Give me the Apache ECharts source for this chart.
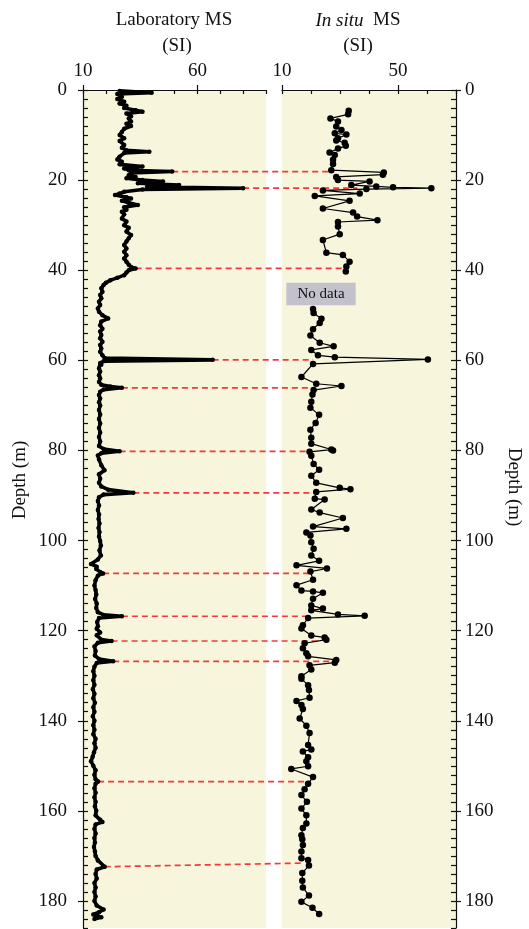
<!DOCTYPE html>
<html>
<head>
<meta charset="utf-8">
<script src="https://cdn.jsdelivr.net/npm/echarts@6/dist/echarts.min.js"></script>
<style>
html, body { margin: 0; padding: 0; background: #fff; }
#chart { width: 529px; height: 929px; }
</style>
</head>
<body>
<div id="chart"></div>
<script>
// depth (m), laboratory MS (SI)
var labMS = [
  [0.2,26],[0.6,40],[0.9,25],[1.5,27],[2.0,25],[2.6,28],[3.0,26],[3.5,29],[4.0,28],[4.5,33],
  [4.8,36],[5.2,29],[5.8,31],[6.3,30],[7.0,31],[7.5,29],[8.0,31],[8.6,28],[9.3,27],[10.0,26],
  [10.7,28],[11.3,26],[12.2,28],[12.8,27],[13.4,29],[13.7,39],[14.0,28],[14.8,26],[15.4,25],[15.9,27],
  [16.5,26],[17.0,36],[17.4,28],[17.8,30],[18.1,49],[18.4,31],[18.9,30],[19.3,33],[19.6,29],[20.0,36],
  [20.3,45],[20.7,34],[21.1,52],[21.5,38],[21.8,80],[22.1,36],[22.6,28],[23.0,26],[23.3,24],[23.8,29],
  [24.1,31],[24.6,27],[25.0,30],[25.5,34],[26.0,28],[26.6,29],[27.0,27],[27.6,28],[28.5,27],[29.2,29],
  [30.0,28],[30.6,30],[31.4,29],[32.2,31],[32.9,30],[33.6,29],[34.4,28],[35.2,29],[35.9,28],[36.7,29],
  [37.4,28],[38.1,29],[38.8,30],[39.3,31],[39.6,33],[40.0,30],[40.5,29],[41.1,28],[41.7,25],[42.2,22],
  [42.8,20],[43.3,19],[44.0,18],[44.8,18.5],[45.5,17.5],[46.2,18],[47.0,17],[47.7,17.5],[48.5,16.5],[49.2,17],
  [50.0,18.5],[50.7,21],[51.4,18],[52.2,17.5],[53.0,18.5],[53.6,17.5],[54.4,18],[55.1,17.5],[55.9,18.5],[56.6,17.5],
  [57.4,18],[58.1,17.5],[58.9,18.5],[59.5,19.5],[59.9,66.7],[60.2,19],[60.6,17.5],[61.0,18],[61.8,17],[62.5,17.5],
  [63.3,17],[64.0,17.5],[64.8,17],[65.4,18],[65.8,22],[66.1,27],[66.5,19],[67.0,17.5],[67.7,17],[68.5,17.5],
  [69.3,17],[70.0,17.5],[71.0,17],[72.0,17.5],[73.0,17],[74.0,17.5],[75.0,17],[76.0,17.5],[77.0,17],[78.0,17.5],
  [79.0,17],[79.7,19],[80.2,26],[80.6,18],[81.1,16.5],[82.0,17],[83.3,18],[84.4,19.4],[85.3,17],[86.3,17.5],
  [87.2,17],[88.0,18],[88.7,21],[89.4,32],[89.8,19],[90.4,17],[91.2,16.5],[92.2,17],[93.2,16.5],[94.2,17],
  [95.2,16.8],[96.2,17.2],[97.2,16.8],[98.1,17.2],[99.1,17],[100.1,17.5],[101.1,17.8],[102.2,17.2],[103.3,17.8],[104.2,16.5],
  [105.2,13.5],[105.8,16],[106.3,15.8],[107.0,17.5],[107.3,18.8],[107.8,16.5],[108.8,15.5],[110.0,15],[111.0,15.5],[112.0,15.8],
  [113.0,15.3],[114.0,16],[115.0,15.8],[115.9,16.5],[116.5,19],[116.8,27],[117.2,17],[118.1,16.2],[119.0,16.5],[119.6,16],
  [120.4,17.5],[121.0,16],[122.0,18],[122.3,22.5],[122.7,16.5],[123.5,15],[124.5,15.5],[125.5,15.2],[126.3,17],[126.8,23.2],
  [127.2,16],[128.0,15],[129.0,14.5],[130.0,15],[131.0,14.5],[132.0,15],[133.0,14.3],[134.0,15],[135.0,14.5],[136.0,15.2],
  [137.0,14.5],[138.0,15],[139.0,14.3],[140.0,15],[141.0,14.5],[142.0,15],[143.0,14.5],[144.0,15.5],[145.0,15],[146.0,15.5],
  [147.0,14.8],[148.0,14.2],[149.0,13.5],[150.0,14.5],[151.0,15.5],[152.0,15],[153.0,15.5],[153.5,16.6],[154.0,15.5],[155.0,15],
  [156.0,15.5],[157.0,15],[158.0,15.5],[159.0,15.2],[160.0,15.8],[161.0,15.5],[162.0,17.5],[162.5,18.5],[163.0,15.5],[164.0,15],
  [165.0,15.5],[166.0,15],[167.0,15.2],[168.0,14.8],[169.0,15.2],[170.0,15.5],[171.0,16.5],[172.4,19.5],[173.0,16],[174.0,15.5],
  [175.0,16],[176.0,15],[177.0,15.5],[178.0,15],[179.0,15.5],[180.0,15],[181.0,16],[181.9,19],[182.5,17],[183.0,14.5],
  [183.6,18],[184.0,15]
];

// depth (m), in situ MS (SI), above the data gap
var situUpper = [
  [4.6,33.0],[5.4,32.8],[6.3,26.7],[7.0,29.3],[8.1,28.7],[8.9,30.5],[9.6,28.2],[9.9,32.2],[10.7,29.3],[11.2,28.7],
  [11.7,31.6],[12.4,32.0],[13.0,29.3],[13.9,26.4],[14.4,28.2],[15.5,27.6],[16.4,27.6],[17.8,27.0],[18.3,45.1],[18.8,44.8],
  [19.3,28.7],[20.0,29.3],[20.3,40.2],[21.1,33.9],[21.4,42.5],[21.6,48.3],[21.8,61.5],[22.0,39.1],[22.3,24.1],[23.0,36.8],
  [23.5,21.3],[24.6,33.3],[26.3,24.1],[27.2,34.5],[28.1,35.9],[28.9,42.9],[29.3,29.3],[30.3,29.3],[32.0,29.9],[33.3,24.1],
  [36.1,25.3],[36.6,31.0],[38.1,33.3],[39.2,32.2],[40.3,32.0]
];

// depth (m), in situ MS (SI), below the data gap
var situLower = [
  [48.6,20.7],[49.5,20.9],[50.8,23.6],[51.7,23.0],[53.1,20.7],[54.5,19.8],[56.1,23.0],[56.9,27.8],[57.7,20.1],[58.9,22.4],
  [59.3,28.2],[59.8,60.3],[60.8,20.7],[63.7,16.7],[65.2,21.8],[65.7,30.5],[66.6,20.9],[67.6,20.5],[69.2,20.1],[70.5,19.8],
  [72.1,22.8],[73.9,21.6],[75.4,19.8],[77.2,20.1],[78.5,20.1],[79.8,27.0],[80.0,27.6],[80.3,19.5],[81.2,20.1],[83.0,20.9],
  [84.3,22.8],[85.6,20.1],[87.2,21.8],[88.3,29.9],[88.6,33.6],[89.2,21.8],[90.7,21.3],[90.9,24.7],[93.1,20.1],[93.8,23.0],
  [95.0,31.0],[96.9,20.7],[97.4,32.2],[98.2,18.4],[98.9,19.8],[100.4,20.1],[101.8,20.9],[103.3,20.1],[104.5,22.8],[105.5,15.0],
  [106.2,25.5],[106.9,19.8],[108.7,20.7],[109.9,15.0],[111.1,16.7],[111.3,20.7],[111.6,24.1],[112.9,20.7],[114.4,20.1],[115.1,24.1],
  [115.5,20.1],[116.4,29.3],[116.7,38.5],[117.2,19.0],[118.8,17.2],[119.5,16.7],[121.1,20.1],[121.5,24.7],[122.0,25.3],[122.8,17.8],
  [123.9,17.2],[125.0,18.4],[125.7,19.0],[126.5,28.7],[127.1,28.2],[127.7,19.5],[128.6,20.1],[130.1,16.7],[130.7,16.7],[132.1,19.0],
  [133.2,19.3],[134.9,19.5],[135.6,15.0],[136.5,16.7],[137.4,17.2],[139.5,16.1],[141.1,18.4],[142.7,19.5],[145.4,19.0],[146.4,20.1],
  [146.8,17.2],[148.1,19.0],[149.0,18.4],[150.1,19.0],[150.7,13.2],[152.5,20.7],[154.0,19.0],[155.2,17.8],[156.5,16.7],[158.0,18.6],
  [159.5,16.7],[161.0,18.4],[162.8,18.4],[163.8,17.2],[165.4,16.7],[166.3,17.0],[167.6,17.2],[169.0,16.7],[170.5,16.7],[170.9,19.0],
  [172.1,19.3],[173.8,17.0],[175.5,17.0],[177.0,17.2],[178.8,19.3],[180.2,16.7],[181.5,20.5],[182.9,22.8]
];

// correlation ties: lab depth/value -> in situ depth/value
var tieDepthLab  = [18.1, 21.8, 39.6, 59.9, 66.1, 80.2, 89.4, 107.3, 116.8, 122.3, 126.8, 153.5, 172.4];
var tieLab       = [49, 80, 33, 66.7, 27, 26, 32, 18.8, 27, 22.5, 23.2, 16.6, 19.5];
var tieDepthSitu = [18.1, 21.8, 39.6, 59.9, 66.1, 80.2, 89.4, 107.3, 116.8, 122.3, 126.8, 153.5, 171.6];
var tieSitu      = [28, 36, 32, 20.7, 20.7, 19.5, 21.8, 19.5, 19.0, 23.6, 28.2, 19.5, 16.7];

var depthLabels = [0, 20, 40, 60, 80, 100, 120, 140, 160, 180];
var labLabels = [10, 60];
var situLabels = [10, 50];

var FONT = '"Liberation Serif", "Times New Roman", serif';
var PANEL = '#f7f6dc';

function flip(arr) {
  return arr.map(function (p) { return [p[1], p[0]]; });
}

function xMain(grid, max, labels) {
  return {
    gridIndex: grid, type: 'value', position: 'top', min: 10, max: max, interval: 10,
    axisLine: { show: true, lineStyle: { color: '#111', width: 1.2 } },
    axisTick: { show: true, inside: true, length: 4, lineStyle: { color: '#111', width: 1.2 } },
    axisLabel: {
      margin: 9, fontFamily: FONT, fontSize: 19, color: '#111',
      formatter: function (v) { return labels.indexOf(v) >= 0 ? String(v) : ''; }
    },
    splitLine: { show: false }
  };
}
function xMajor(grid, max, labels) {
  return {
    gridIndex: grid, type: 'value', position: 'top', min: 10, max: max, interval: 10,
    axisLine: { show: false },
    axisTick: { show: true, inside: false, length: 5, customValues: labels, lineStyle: { color: '#111', width: 1.2 } },
    axisLabel: { show: false },
    splitLine: { show: false }
  };
}
function yMain(grid, pos, margin) {
  return {
    gridIndex: grid, type: 'value', position: pos, inverse: true, min: 0, max: 186, interval: 2,
    axisLine: { show: true, lineStyle: { color: '#111', width: 1.2 } },
    axisTick: { show: true, inside: true, length: 5, lineStyle: { color: '#111', width: 1.2 } },
    axisLabel: {
      margin: margin, fontFamily: FONT, fontSize: 19, color: '#111',
      formatter: function (v) { return depthLabels.indexOf(v) >= 0 ? String(v) : ''; }
    },
    splitLine: { show: false }
  };
}
function yMajor(grid, pos) {
  return {
    gridIndex: grid, type: 'value', position: pos, inverse: true, min: 0, max: 186, interval: 2,
    axisLine: { show: false },
    axisTick: { show: true, inside: false, length: 5, customValues: depthLabels, lineStyle: { color: '#111', width: 1.2 } },
    axisLabel: { show: false },
    splitLine: { show: false }
  };
}

var chart = echarts.init(document.getElementById('chart'));

var option = {
  animation: false,
  backgroundColor: '#fff',
  grid: [
    { left: 83, width: 183, top: 90, bottom: 1, show: true, backgroundColor: PANEL, borderWidth: 0 },
    { left: 282, width: 174, top: 90, bottom: 1, show: true, backgroundColor: PANEL, borderWidth: 0 }
  ],
  xAxis: [xMain(0, 90, labLabels), xMain(1, 70, situLabels), xMajor(0, 90, labLabels), xMajor(1, 70, situLabels)],
  yAxis: [yMain(0, 'left', 16), yMain(1, 'right', 9), yMajor(0, 'left'), yMajor(1, 'right')],
  graphic: [
    { type: 'text', x: 174, y: 30, style: { text: 'Laboratory MS', font: '19px ' + FONT, fill: '#111', textAlign: 'center', textVerticalAlign: 'bottom' } },
    { type: 'text', x: 177, y: 56, style: { text: '(SI)', font: '19px ' + FONT, fill: '#111', textAlign: 'center', textVerticalAlign: 'bottom' } },
    { type: 'text', x: 358, y: 30, style: { text: '{i|In situ}  MS', font: '19px ' + FONT, fill: '#111', textAlign: 'center', textVerticalAlign: 'bottom',
        rich: { i: { fontStyle: 'italic', fontFamily: FONT, fontSize: 19 } } } },
    { type: 'text', x: 358, y: 56, style: { text: '(SI)', font: '19px ' + FONT, fill: '#111', textAlign: 'center', textVerticalAlign: 'bottom' } },
    { type: 'text', x: 20, y: 480, rotation: Math.PI / 2, style: { text: 'Depth (m)', font: '19px ' + FONT, fill: '#111', textAlign: 'center', textVerticalAlign: 'middle' } },
    { type: 'text', x: 514, y: 487, rotation: -Math.PI / 2, style: { text: 'Depth (m)', font: '19px ' + FONT, fill: '#111', textAlign: 'center', textVerticalAlign: 'middle' } }
  ],
  series: [
    {
      name: 'Laboratory MS', type: 'line', xAxisIndex: 0, yAxisIndex: 0,
      data: flip(labMS), z: 4,
      lineStyle: { color: '#000', width: 3.6 },
      symbol: 'circle', symbolSize: 4.5, itemStyle: { color: '#000' }
    },
    {
      name: 'In situ MS', type: 'line', xAxisIndex: 1, yAxisIndex: 1,
      data: flip(situUpper), z: 4,
      lineStyle: { color: '#000', width: 1.2 },
      symbol: 'circle', symbolSize: 6.5, itemStyle: { color: '#000' },
      markArea: {
        silent: true,
        itemStyle: { color: '#c3c2cc' },
        label: { show: true, position: 'inside', formatter: 'No data', fontFamily: FONT, fontSize: 15, color: '#111' },
        data: [[{ coord: [11.5, 42.8] }, { coord: [35.4, 47.8] }]]
      }
    },
    {
      name: 'In situ MS lower', type: 'line', xAxisIndex: 1, yAxisIndex: 1,
      data: flip(situLower), z: 4,
      lineStyle: { color: '#000', width: 1.2 },
      symbol: 'circle', symbolSize: 6.5, itemStyle: { color: '#000' }
    }
  ]
};

chart.setOption(option);

// dashed red correlation lines, placed through both panels' scales
var ties = [];
for (var i = 0; i < tieDepthLab.length; i++) {
  var a = chart.convertToPixel({ xAxisIndex: 0, yAxisIndex: 0 }, [tieLab[i], tieDepthLab[i]]);
  var b = chart.convertToPixel({ xAxisIndex: 1, yAxisIndex: 1 }, [tieSitu[i], tieDepthSitu[i]]);
  ties.push({
    type: 'line', z: 1,
    shape: { x1: a[0], y1: a[1], x2: b[0], y2: b[1] },
    style: { stroke: '#f23a3a', lineWidth: 1.7, lineDash: [6, 4] }
  });
}
chart.setOption({ graphic: option.graphic.concat(ties) });
</script>
</body>
</html>
